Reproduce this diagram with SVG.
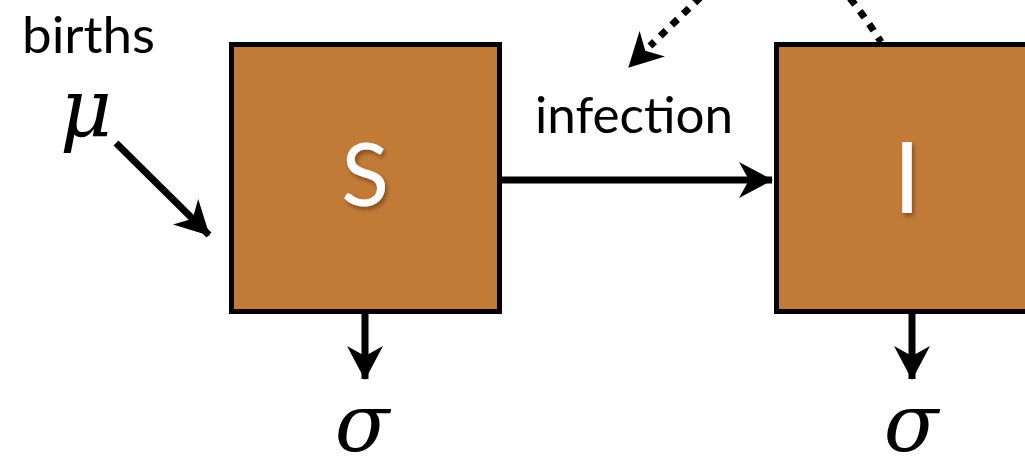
<svg xmlns="http://www.w3.org/2000/svg" width="1025" height="456" viewBox="0 0 1025 456">
  <style>
    .box { fill: #c27a37; stroke: #000; stroke-width: 5; }
    .lbl { font-family: Lato, "Open Sans", sans-serif; fill: #000; }
    .big { font-family: Lato, "Open Sans", sans-serif; fill: #fff; text-anchor: middle; }
    .greek { font-family: "DejaVu Serif", "Liberation Serif", serif; font-style: italic; fill: #000; }
    .edge { stroke: #000; stroke-width: 7; fill: none; }
    .dot { stroke: #000; stroke-width: 7; fill: none; stroke-dasharray: 8 8; }
  </style>
  <defs>
    <marker id="ah" markerUnits="userSpaceOnUse" viewBox="0 0 34 36" markerWidth="34" markerHeight="36" refX="33" refY="18" orient="auto">
      <path d="M0,0 L34,18 L0,36 L10,18 Z" fill="#000"/>
    </marker>
    <filter id="sh" x="-20%" y="-20%" width="140%" height="140%">
      <feDropShadow dx="2" dy="3" stdDeviation="2" flood-color="#000" flood-opacity="0.35"/>
    </filter>
  </defs>
  <rect width="1025" height="456" fill="#fff"/>

  <g id="connectors">
    <line class="edge" x1="500" y1="180" x2="772" y2="180" marker-end="url(#ah)"/>
    <line class="edge" x1="116" y1="143" x2="209" y2="235" marker-end="url(#ah)"/>
    <line class="edge" x1="365" y1="313" x2="365" y2="379" marker-end="url(#ah)"/>
    <line class="edge" x1="912" y1="313" x2="912" y2="379" marker-end="url(#ah)"/>
    <path class="dot" d="M712,-14 L650,46"/>
    <path d="M650,46 L629,67" stroke="none" fill="none" marker-end="url(#ah)"/>
    <path class="dot" d="M840,-14 Q862,12 881,42"/>
  </g>

  <g id="node-S">
    <rect class="box" x="231.5" y="44.5" width="268" height="267"/>
    <text class="big" x="365" y="206" font-size="88" filter="url(#sh)">S</text>
  </g>

  <g id="node-I">
    <rect class="box" x="776.5" y="44.5" width="260" height="267"/>
    <text class="big" x="907" y="213" font-size="98" filter="url(#sh)">I</text>
  </g>

  <g id="label-births">
    <text class="lbl" x="22" y="53" font-size="50" textLength="133" lengthAdjust="spacingAndGlyphs">births</text>
    <text class="greek" x="60" y="136" font-size="80">μ</text>
  </g>

  <g id="label-infection">
    <text class="lbl" x="535" y="133" font-size="50" textLength="198" lengthAdjust="spacingAndGlyphs">infection</text>
  </g>

  <g id="label-sigma-S">
    <text class="greek" x="362" y="451" font-size="80" text-anchor="middle">σ</text>
  </g>
  <g id="label-sigma-I">
    <text class="greek" x="911" y="451" font-size="80" text-anchor="middle">σ</text>
  </g>
</svg>
